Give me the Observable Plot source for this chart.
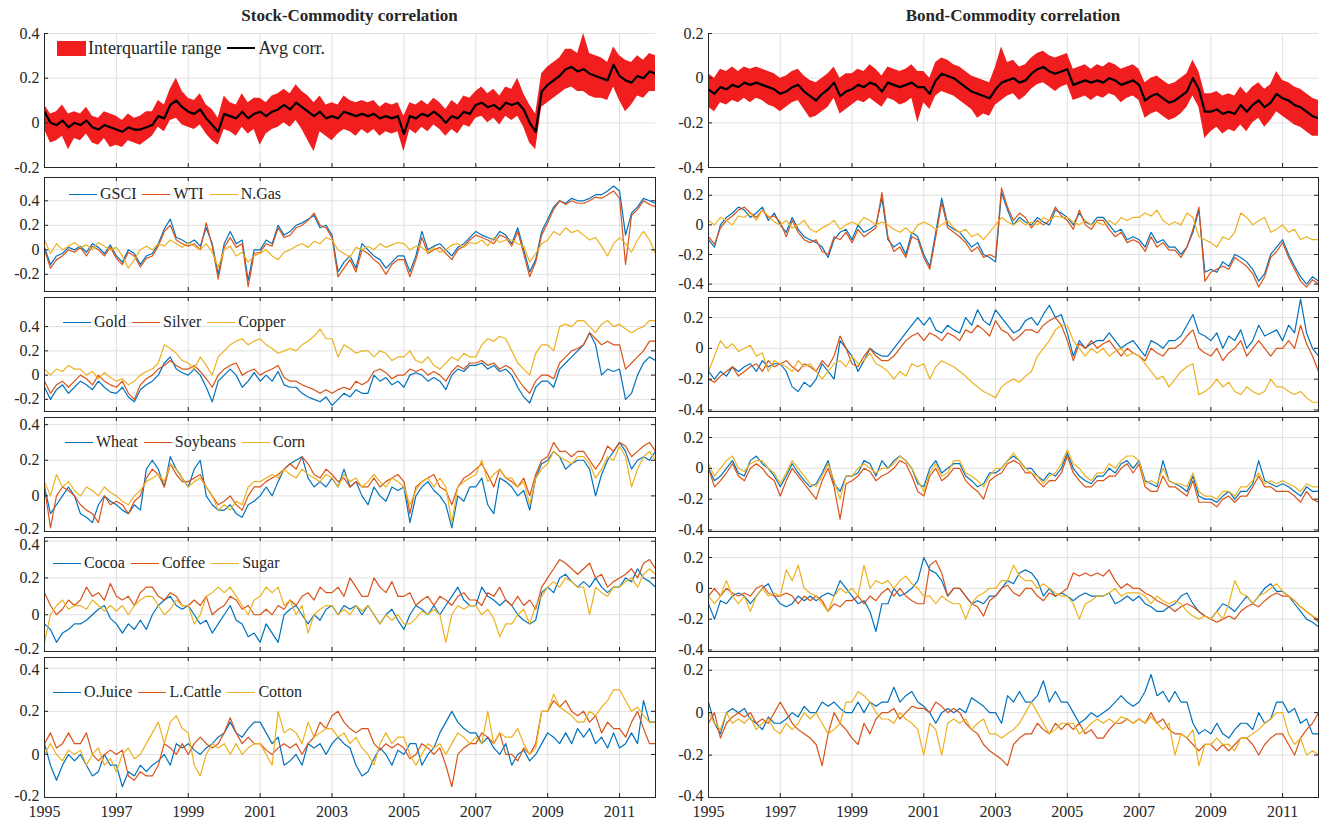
<!DOCTYPE html>
<html>
<head>
<meta charset="utf-8">
<script src="https://cdn.jsdelivr.net/npm/d3@7"></script>
<script src="https://cdn.jsdelivr.net/npm/@observablehq/plot@0.6"></script>
<style>
  body { margin: 0; background: #fff; }
  #fig { position: relative; width: 1325px; height: 827px; font-family: "Liberation Serif", "Times New Roman", serif; color: #262626; }
  #fig svg text { font-family: "Liberation Serif", "Times New Roman", serif !important; font-size: 16px !important; }
  .title { position: absolute; top: 6px; font-weight: bold; font-size: 17px; transform: translateX(-50%); white-space: nowrap; }
  .panel { position: absolute; }
  .legend { position: absolute; display: flex; align-items: center; font-size: 16px; line-height: 18px; white-space: nowrap; }
  .legend.big { font-size: 18px; line-height: 20px; }
  .legend .sw { display: inline-block; width: 28px; height: 0; margin-right: 3px; }
  .legend .patch { display: inline-block; width: 29px; height: 15px; margin-right: 2px; }
  .legend .lab { margin-right: 6px; }
</style>
</head>
<body>
<div id="fig"></div>
<script>
// Rolling correlations, sampled every two months from Jan 1995 to Jan 2012.
// All series values are correlations in hundredths.
const years = [1995, 1997, 1999, 2001, 2003, 2005, 2007, 2009, 2011];
const dates = d3.range(103).map(i => 1995 + i / 6);
const leftTicks = [-0.2, 0, 0.2, 0.4];
const rightTicks = [-0.4, -0.2, 0, 0.2];

// --- Stock-commodity: average correlation and interquartile range ---
const stockAvg = [5,0,-1,1,-2,0, -1,1,-2,-3,-1,-2, -3,-4,-2,-3,-3,-2, -1,3,2,8,10,7, 5,4,6,2,-1,-4, 4,3,2,5,2,4, 5,3,5,6,8,6, 9,7,5,3,5,2, 3,2,5,4,3,4, 3,4,2,3,2,3, -5,3,2,4,3,5, 3,0,3,2,5,4, 8,9,7,8,6,9, 8,9,6,0,-4,14, 17,19,21,24,25,23, 24,22,21,20,19,26, 21,19,18,21,20,23, 22];
const stockLo = [-3,-9,-8,-6,-12,-7, -8,-5,-9,-10,-7,-11, -10,-11,-8,-9,-10,-8, -6,-2,-4,1,2,-1, -2,-3,-1,-5,-8,-10, -3,-4,-6,-2,-5,-3, -10,-5,-3,-2,0,-2, 1,-3,-8,-13,-4,-6, -8,-5,-3,-4,-6,-3, -5,-3,-6,-4,-5,-4, -13,-3,-5,-2,-4,-1, -3,-6,-3,-5,-1,-2, 2,3,0,2,-1,3, 1,3,-2,-9,-12,7, 9,11,13,15,16,14, 14,12,11,11,10,16, 10,5,8,12,11,14, 14];
const stockHi = [8,4,5,8,4,5, 4,7,3,2,5,4, 3,1,4,2,3,5, 5,10,8,15,20,14, 11,10,13,8,6,2, 12,9,8,13,9,11, 11,9,12,13,15,13, 17,14,12,9,12,8, 9,8,12,10,9,10, 9,10,7,9,8,9, 3,9,8,10,8,11, 9,6,10,8,12,11, 14,16,13,15,12,16, 15,20,13,8,4,22, 25,27,29,33,33,31, 40,31,30,29,27,34, 30,28,27,30,28,31, 30];

// --- Bond-commodity: average correlation and interquartile range ---
const bondAvg = [-5,-7,-4,-5,-3,-4, -2,-3,-2,-3,-4,-5, -7,-6,-4,-3,-6,-8, -10,-7,-5,-2,-8,-6, -5,-3,-4,-2,-3,-6, -2,-3,-4,-3,-2,-4, -4,-7,-1,2,1,0, -2,-4,-6,-7,-8,-9, -5,-2,-1,0,-2,-1, 2,4,5,3,2,3, 4,-3,-2,-1,-2,-1, -2,0,-1,-3,-2,-1, -3,-10,-8,-7,-9,-11, -10,-8,-6,0,-5,-15, -15,-14,-16,-15,-16,-12, -15,-12,-10,-13,-11,-7, -9,-10,-12,-13,-15,-17, -18];
const bondLo = [-13,-15,-11,-12,-10,-11, -9,-11,-9,-10,-12,-13, -15,-13,-11,-10,-14,-18, -17,-15,-13,-9,-16,-14, -12,-10,-11,-9,-11,-13, -9,-10,-12,-11,-9,-20, -11,-14,-8,-6,-7,-8, -10,-12,-14,-18,-16,-17, -12,-10,-8,-7,-10,-8, -5,-3,-2,-4,-6,-4, -3,-10,-9,-8,-10,-8, -9,-7,-8,-11,-9,-8, -10,-18,-16,-15,-17,-19, -18,-16,-13,-8,-13,-27, -24,-22,-25,-23,-24,-21, -24,-20,-18,-22,-19,-15, -17,-19,-21,-22,-24,-26, -26];
const bondHi = [2,0,4,3,5,3, 5,4,5,4,3,2, 0,1,3,4,1,-1, -2,0,2,5,0,2, 2,4,3,6,4,1, 5,4,3,4,6,3, 3,0,7,9,8,6, 5,3,1,0,-1,-2, 5,14,7,8,5,6, 9,11,12,10,9,10, 11,4,5,6,4,6, 5,7,6,4,5,6, 4,-2,0,1,-1,-3, -2,0,2,8,3,-7, -7,-6,-8,-7,-8,-4, -7,-4,-2,-5,-3,3, -1,-2,-4,-5,-7,-9, -10];

// --- Energy ---
const gsciStock = [2,-12,-5,-3,2,0, 3,-2,5,2,-3,4, -5,-10,0,-3,-12,-5, -3,5,17,25,10,8, 5,8,3,18,5,-20, 5,15,5,8,-25,0, 0,8,5,20,12,15, 20,22,25,28,18,20, 12,-18,-10,-5,-15,5, 0,-5,-8,-15,-10,-5, -5,-18,-5,15,0,3, 5,0,-5,2,5,10, 15,12,10,8,15,12, 5,18,0,-18,-8,15, 25,35,40,38,42,40, 40,42,45,45,48,52, 48,12,30,35,42,40, 38];
const wtiStock = [0,-15,-8,-5,0,-2, 2,-5,3,0,-5,2, -7,-12,-2,-5,-14,-7, -5,3,15,20,8,5, 3,5,0,22,3,-24, 2,10,2,5,-30,-3, -2,5,3,18,10,12, 18,20,24,30,20,18, 10,-22,-15,-8,-18,0, -3,-8,-12,-20,-12,-8, -8,-22,-8,10,-3,0, 2,-3,-8,0,3,8, 12,10,8,5,12,10, 3,15,-3,-22,-10,12, 22,33,40,37,40,38, 38,40,43,42,45,48, 42,-12,28,33,40,37, 35];
const ngasStock = [8,-3,5,0,3,6, 2,4,0,6,3,0, 2,-5,-15,-8,0,3, 0,5,3,8,5,2, 6,3,0,5,-2,-14, 0,3,-5,-2,-10,-5, -3,0,-5,-8,-2,0, 3,5,2,7,5,10, 8,0,-3,-6,2,0, 3,0,5,2,4,6, 5,0,3,2,-2,2, -2,0,4,5,2,6, 5,8,3,10,6,8, 8,5,3,-10,-3,5, 8,15,12,18,14,16, 12,8,10,3,-5,5, 10,5,-2,8,15,8, -3];
const gsciBond = [-10,-15,0,5,8,12, 10,5,8,12,3,8, 0,-5,5,-3,-8,-10, -12,-15,-22,-10,-5,-3, -10,0,-5,-3,0,18, -10,-15,-12,-20,-5,-8, -20,-28,-5,18,0,-3, -5,-10,-15,-12,-20,-22, -25,22,10,0,5,2, 0,5,2,0,10,8, 5,0,8,2,0,5, 5,0,-5,-3,-10,-8, -10,-15,-5,-12,-10,-15, -15,-20,-15,-5,10,-32, -30,-32,-25,-28,-20,-22, -25,-30,-38,-33,-20,-15, -10,-20,-28,-35,-40,-35, -38];
const wtiBond = [-8,-13,-2,3,6,10, 12,8,5,10,5,6, 2,-8,3,-5,-10,-12, -10,-18,-20,-8,-10,-5, -12,-3,-8,-5,-2,22, -8,-18,-15,-22,-8,-10, -22,-30,-8,15,-2,-5, -8,-12,-18,-15,-22,-20, -22,25,12,3,8,5, -2,3,0,3,12,6, 3,-3,10,0,-3,3, 3,-3,-8,-5,-12,-10, -12,-18,-8,-15,-12,-17, -17,-22,-15,-3,12,-38, -32,-30,-28,-30,-22,-25, -28,-33,-42,-35,-22,-18, -12,-22,-30,-38,-42,-37, -40];
const ngasBond = [3,0,5,3,0,6, 5,8,3,10,6,2, 0,3,-2,0,3,-3, -5,-2,0,3,-3,0, 2,0,5,3,0,2, 0,-3,-5,-2,-6,0, 2,0,-3,0,3,-2, -5,-3,-8,-6,-10,-5, 0,5,2,0,3,0, 2,0,5,3,6,5, 5,2,0,3,0,2, 0,3,0,5,3,5, 5,8,6,10,3,0, 2,0,8,5,-8,-10, -12,-15,-8,-10,-5,8, 5,0,3,5,-5,-3, 0,-5,-3,-10,-8,-10, -10];

// --- Metals ---
const goldStock = [-10,-20,-12,-8,-15,-10, -5,-8,-12,-5,-10,-14, -15,-10,-18,-22,-12,-8, -5,0,10,15,5,2, 0,5,0,-10,-22,-5, 0,5,0,-10,-5,2, -5,0,-5,3,-8,-10, -10,-15,-18,-20,-22,-18, -25,-20,-15,-18,-12,-15, -15,0,-5,-2,-8,-5, -10,0,2,0,-5,-2, -5,-12,0,5,3,8, 8,10,5,8,3,5, 0,-10,-18,-23,-10,-5, -5,-10,5,10,15,20, 25,35,25,0,5,3, 5,-20,-15,0,10,15, 12];
const silverStock = [-5,-15,-8,-5,-10,-5, 0,-3,-8,0,-5,-8, -10,-5,-15,-20,-8,-3, 0,5,8,12,8,5, 5,8,3,-3,-10,0, 5,8,10,0,3,5, 0,3,5,8,-2,-5, -5,-8,-10,-12,-15,-12, -15,-12,-10,-12,-5,-8, -5,3,5,2,-3,0, 0,5,3,5,0,3, 0,-5,3,8,5,10, 10,12,8,10,5,8, 5,-3,-10,-15,-5,0, 0,-3,10,15,20,22, 25,35,30,25,28,25, 25,5,10,15,20,28, 28];
const copperStock = [5,0,5,3,8,5, 5,0,3,-3,2,-2, -5,-3,-8,-5,0,3, 5,10,25,22,18,12, 10,5,15,8,0,15, 20,25,28,30,25,28, 30,25,22,18,20,22, 20,25,28,32,38,30, 30,15,25,22,18,20, 20,15,20,18,12,15, 15,20,12,10,15,8, 5,10,15,12,18,15, 15,25,30,28,32,30, 20,10,5,0,18,25, 25,20,40,42,40,45, 45,40,35,42,45,40, 42,38,35,38,40,45, 45];
const goldBond = [-15,-20,-15,-18,-12,-15, -12,-10,-15,-8,-12,-10, -10,-15,-25,-28,-22,-25, -20,-10,-15,-20,5,0, -5,-15,-8,0,-3,-5, -5,0,5,10,15,20, 15,20,12,10,15,12, 10,20,15,25,18,15, 25,20,15,10,12,18, 20,15,22,28,20,22, 10,-5,5,0,3,5, 5,10,5,0,3,5, 0,-5,5,3,0,5, 5,8,15,22,10,8, 5,10,0,8,5,12, 0,5,15,8,10,12, 5,15,10,32,10,0, -5];
const silverBond = [-20,-22,-18,-15,-12,-18, -15,-12,-10,-15,-8,-12, -10,-8,-12,-15,-10,-12, -15,-8,-12,-5,8,0, -10,-12,-5,0,-5,-8, -8,-5,0,5,8,10, 5,10,8,5,10,8, 5,12,10,15,12,8, 18,12,10,5,8,12, 12,10,15,18,20,15, 5,-8,3,0,5,0, 3,5,0,-5,0,-3, -5,-8,0,-3,-5,0, 0,3,8,12,0,-3, -5,0,-8,-3,0,5, -5,0,5,0,-5,0, 0,5,0,15,3,-5, -15];
const copperBond = [-15,-5,5,0,3,-2, 0,2,-5,-3,-15,-8, -10,-12,-15,-8,-12,-10, -15,-20,-15,-10,-8,-12, -5,-10,-8,-3,-10,-12, -15,-20,-15,-18,-10,-12, -10,-20,-12,-8,-10,-12, -15,-18,-22,-25,-28,-30, -32,-25,-22,-20,-22,-18, -15,-5,0,5,12,15, 15,5,0,-5,0,-3, 0,-5,-2,0,-5,-3, -5,-10,-15,-20,-18,-25, -20,-15,-12,-10,-30,-28, -25,-20,-25,-22,-28,-30, -25,-28,-30,-28,-20,-25, -25,-28,-30,-28,-32,-35, -35];

// --- Grains ---
const wheatStock = [5,-10,-5,0,5,0, -10,-12,-15,-5,0,-3, -5,-8,-10,-5,-8,15, 20,15,5,22,15,10, 5,15,20,0,-5,-8, -8,-5,-10,-12,-5,-3, 0,5,0,8,15,18, 20,22,10,5,8,5, 10,5,15,5,8,0, -5,5,0,-3,5,3, 5,-15,0,5,8,3, 0,-5,-18,0,-3,5, 5,10,-5,-10,10,8, 5,0,3,-8,10,18, 20,25,22,15,18,20, 20,15,0,12,20,25, 30,25,15,20,22,20, 25];
const soyStock = [5,-18,0,5,3,0, -5,-8,-10,-15,0,-5, -3,-5,-10,-3,0,10, 15,12,5,18,12,8, 8,10,12,5,0,-5, -3,0,-5,-8,0,5, 5,8,10,12,15,18, 15,22,18,12,10,15, 12,8,10,5,8,5, 5,10,5,8,10,12, 8,-10,5,8,10,12, 5,3,-5,5,10,12, 15,18,12,5,15,10, 8,5,10,0,12,20, 22,30,25,25,22,25, 25,20,15,20,28,25, 30,28,22,25,28,30, 25];
const cornStock = [8,0,12,5,8,3, 0,5,3,0,5,2, 0,-3,-5,0,3,8, 10,12,8,18,15,10, 5,8,10,5,0,-8, -5,-8,-3,-5,5,8, 8,10,12,10,15,12, 10,15,12,10,8,12, 10,5,12,8,10,5, 8,12,8,5,10,8, 5,-5,3,8,10,5, 10,5,-15,5,8,10, 12,20,8,12,15,10, 10,5,8,-5,10,15, 18,25,22,20,18,22, 22,18,10,15,22,20, 28,22,5,15,22,25, 20];
const wheatBond = [0,-8,-5,0,5,-3, -5,5,8,3,0,-5, -12,-5,3,-3,-8,-12, -10,-3,5,-10,-15,-5, -5,-3,5,3,-5,5, 0,5,8,5,0,-10, -12,0,5,-3,0,3, 3,-5,-8,-12,-10,-3, -3,0,5,8,5,0, 0,-5,-8,-3,-5,0, 10,0,-5,-8,-10,-5, -5,0,-3,3,5,0, 5,-8,-10,-12,5,-8, -10,-12,-15,-5,-18,-20, -20,-22,-18,-15,-20,-15, -15,-10,5,-8,-10,-12, -10,-12,-15,-18,-12,-15, -15];
const soyBond = [0,-12,-8,-3,3,-5, -8,0,3,0,-5,-8, -18,-8,0,-5,-10,-15, -20,-8,0,-12,-33,-10, -8,-5,0,-2,-8,-5, -3,0,5,3,-5,-15, -18,-5,0,-8,-5,0, 0,-8,-12,-15,-20,-8, -5,-3,3,5,3,-3, -3,-8,-12,-8,-8,-3, 8,-3,-8,-12,-12,-8, -8,-5,-5,0,3,-3, 3,-12,-15,-15,-5,-12, -12,-15,-18,-8,-22,-22, -22,-25,-20,-18,-22,-18, -18,-12,-5,-12,-12,-15, -15,-15,-18,-22,-15,-20, -22];
const cornBond = [3,-5,0,5,8,0, -2,3,5,5,0,-3, -10,-3,5,0,-5,-10, -12,-5,3,-8,-20,-5, -5,0,3,0,-3,0, 0,3,8,5,0,-8, -15,-3,3,-5,-3,5, 5,-3,-5,-8,-12,-5, 0,0,5,10,5,0, -3,-5,-10,-5,-3,3, 12,3,0,-5,-8,-3, -3,3,0,5,8,8, 5,-10,-8,-10,0,-8, -10,-10,-12,-3,-15,-18, -18,-20,-15,-15,-18,-12, -12,-8,-3,-10,-8,-10, -8,-10,-12,-15,-10,-12, -12];

// --- Softs ---
const cocoaStock = [-5,-8,-15,-10,-8,-5, -5,-3,0,3,5,-2, -5,-10,-5,-8,-3,-8, 0,5,8,10,5,3, 5,0,-5,-3,-10,-5, 0,5,-3,-5,-12,-10, -15,-5,-10,-15,0,3, 5,0,-5,0,-3,3, 5,0,5,3,5,0, 5,0,-5,0,3,-3, -8,0,5,3,0,5, 0,5,10,15,8,5, 5,15,10,8,5,8, 5,0,-3,-5,-3,12, 15,12,20,22,18,15, 18,15,20,15,12,15, 15,20,18,25,20,18, 15];
const coffeeStock = [12,5,0,3,8,5, 8,15,10,12,8,17, 10,8,10,5,12,15, 15,10,8,12,10,5, 5,8,5,10,0,3, 5,10,8,3,5,0, 0,3,0,5,3,8, 5,10,12,8,15,12, 12,15,10,20,15,10, 10,20,15,12,18,10, 10,12,5,8,10,5, 10,8,5,10,12,8, 8,5,12,10,15,8, 5,10,5,8,3,15, 20,25,30,28,25,22, 25,28,20,22,15,18, 20,22,25,20,28,30, 25];
const sugarStock = [-15,0,5,8,3,5, 5,3,8,5,2,5, 2,5,0,5,8,10, 10,5,0,3,8,5, 5,-5,0,10,12,15, 12,15,10,5,0,8, 10,15,12,15,5,8, 0,5,-10,0,3,5, 5,0,3,0,5,2, 5,0,-5,0,-3,0, -5,-5,-2,2,0,3, 0,-15,0,5,3,5, 5,0,3,-2,-12,-5, -5,0,3,-5,5,10, 15,18,15,20,18,15, 15,0,15,12,10,15, 15,18,20,15,22,25, 22];
const cocoaBond = [-10,-20,-8,-10,-5,-3, -5,-10,-5,0,3,-5, -10,-12,-10,-5,-8,-5, -8,-5,-3,-5,5,0, -5,-10,-8,-15,-28,-10, -10,0,-5,-3,0,5, 20,12,10,5,-5,0, 0,-5,-10,-8,-10,-5, -5,0,5,3,10,12, 10,5,-5,0,-5,-3, -5,-8,-5,-3,-5,-5, -5,-3,-10,-8,-5,-8, -5,-10,-12,-15,-15,-12, -10,-5,-3,-10,-15,-18, -20,-15,-10,-12,-15,-10, -5,-10,-5,0,3,-2, -2,-5,-10,-15,-20,-22, -25];
const coffeeBond = [-5,0,-5,0,-3,-5, -3,-5,0,2,-3,-5, -5,-3,-5,-10,-5,-8, -5,-8,-15,-10,-12,-8, -8,-5,-10,-5,-8,-3, 0,-5,0,-5,-8,-10, -10,15,18,10,-5,0, 0,-5,-10,-12,-18,-8, -5,0,2,-3,-5,0, 0,-5,-8,-3,-5,-3, 0,10,8,10,8,10, 8,12,5,0,3,0, 0,-3,-5,-8,-10,-12, -15,-12,-10,-12,-15,-18, -20,-22,-20,-18,-20,-15, -12,-10,-12,-8,-5,-3, -5,-5,-8,-12,-15,-18, -22];
const sugarBond = [-5,-10,-5,5,-5,-10, -5,-15,-5,0,-5,-3, -5,12,5,15,0,-3, -5,-10,-15,-5,0,-3, 0,-5,15,0,5,3, 5,0,5,8,3,0, -5,-5,-10,-5,-8,-10, -10,-20,-10,-5,-3,0, 0,5,5,15,8,5, 5,0,3,0,-3,-5, -5,-10,-20,-10,-8,-5, -5,-3,0,-5,-3,-3, -3,-5,-10,-5,-8,-10, -8,-10,-15,-18,-20,-18, -20,-15,-20,-10,5,-3, -5,-10,-5,-3,0,3, -2,-5,-8,-12,-15,-18, -20];

// --- Others ---
const ojStock = [5,-5,-12,-5,0,-3, 0,-5,-10,-8,0,-5, -5,-15,-8,-10,-5,-8, -5,-3,0,-5,5,3, 5,2,0,3,5,8, 10,15,10,8,12,15, 15,10,5,8,-5,-3, 0,-5,5,3,5,0, 5,8,5,3,-5,-10, -8,-2,3,0,-5,2, 0,5,5,-5,0,3, 10,15,20,15,12,10, 10,5,8,3,0,5, -5,0,2,-3,0,5, 10,8,5,10,5,12, 8,12,5,8,3,10, 3,5,10,5,25,15, 15];
const cattleStock = [5,10,3,5,10,5, 5,10,0,-3,0,2, 0,2,-10,-12,-8,-10, -10,-5,5,3,0,5, 0,5,8,5,3,5, 10,17,10,5,8,5, 5,2,0,3,5,3, 5,0,5,8,15,12, 18,20,15,12,10,12, 12,5,2,5,3,5, 3,-2,0,5,3,0, 3,-5,-15,0,3,5, 5,10,8,5,10,0, 0,-3,3,0,5,20, 20,25,22,25,20,18, 20,15,18,10,15,12, 12,8,15,20,12,5, 5];
const cottonStock = [0,5,0,-3,2,0, 2,-5,0,3,-5,-2, -8,0,3,-2,0,5, 10,15,5,15,18,12, 10,-5,-10,0,5,3, 5,0,5,0,3,5, 5,0,-5,20,10,12, 10,5,15,8,10,12, 12,8,10,5,8,3, 0,-5,5,10,5,8, 8,0,-5,0,5,3, 5,0,5,10,8,5, 8,5,20,5,10,8, 8,12,5,0,3,20, 20,28,22,20,18,15, 15,20,18,22,25,30, 30,25,20,22,18,15, 15];
const ojBond = [5,-5,-10,0,2,0, 2,-3,-5,-8,-2,-5, -5,-3,0,-2,3,0, 0,5,3,5,2,0, 0,5,0,5,3,5, 5,12,5,8,10,5, 3,0,-5,0,2,0, 2,0,7,5,3,0, 0,-5,8,5,10,5, 5,8,15,5,10,5, 5,0,-5,-3,0,-2, 0,2,5,8,5,3, 5,10,18,8,10,5, 10,5,5,-5,-10,-8, -10,-5,-10,-12,-8,-5, -5,-8,0,-5,-3,5, 5,0,2,-5,-3,-10, -10];
const cattleBond = [-5,0,-12,-5,-2,0, -2,0,-5,-3,-5,0, 5,0,-5,-8,-10,-12, -15,-25,-10,0,-5,-8, -12,-15,-5,-10,-3,0, 0,2,-3,0,3,2, 2,0,5,3,0,2, 0,-5,-8,-10,-15,-18, -20,-22,-25,-15,-12,-10, -10,-5,-8,-10,-5,-8, -5,-8,-5,-10,-8,-12, -12,-8,-5,-5,-3,-5, -3,-5,0,-5,-3,-8, -10,-10,-12,-15,-18,-15, -15,-18,-15,-18,-15,-12, -12,-15,-20,-15,-12,-10, -10,-15,-20,-12,-8,-5, 0];
const cottonBond = [0,-5,-8,0,-5,-3, -5,-2,-8,-5,-3,-8, -10,-5,-8,-5,0,-3, 0,-5,-10,-8,-5,5, 5,10,8,5,0,-3, -3,-5,0,-3,-5,-8, -20,-5,-8,-20,-5,-3, -5,-3,-8,-5,-3,-10, -10,-12,-10,-8,-5,0, 5,0,-5,-10,-8,-5, -5,-5,-10,-8,-5,-3, -5,-3,-5,-2,-3,-5, -3,-5,-2,-5,-8,-5, -20,-10,-12,-8,-25,-15, -15,-12,-15,-15,-18,-12, -12,-10,-8,-5,-3,0, 0,-10,-15,-12,-20,-18, -20];

// --- Styling ---
const BLUE = "#0072BD", ORANGE = "#D95319", YELLOW = "#EDB120";
const BAND = "#F01E1E", GRID = "#e1e1e1", AXIS = "#262626";
const FONT = '"Liberation Serif", "Times New Roman", serif';
const cols = [
  {left: 0, width: 660, mL: 44, mR: 5},
  {left: 660, width: 665, mL: 48, mR: 7}
];
const rows = [[33, 167], [177, 291], [297, 411], [417, 531], [537, 651], [657, 797]];
const pad = 10;
const fmt = d => String(Math.round(d * 10) / 10);

const trio = (a, b, c, names) => [
  {values: a, color: BLUE, name: names && names[0]},
  {values: b, color: ORANGE, name: names && names[1]},
  {values: c, color: YELLOW, name: names && names[2]}
];

const panels = [
  {col: 0, row: 0, domain: [-0.2, 0.4], band: [stockLo, stockHi], avg: stockAvg},
  {col: 1, row: 0, domain: [-0.4, 0.2], band: [bondLo, bondHi], avg: bondAvg},
  {col: 0, row: 1, domain: [-0.34, 0.59], series: trio(gsciStock, wtiStock, ngasStock, ["GSCI", "WTI", "N.Gas"]), legendAt: [69, 194]},
  {col: 1, row: 1, domain: [-0.45, 0.32], series: trio(gsciBond, wtiBond, ngasBond)},
  {col: 0, row: 2, domain: [-0.3, 0.64], series: trio(goldStock, silverStock, copperStock, ["Gold", "Silver", "Copper"]), legendAt: [63, 322]},
  {col: 1, row: 2, domain: [-0.41, 0.33], series: trio(goldBond, silverBond, copperBond)},
  {col: 0, row: 3, domain: [-0.2, 0.44], series: trio(wheatStock, soyStock, cornStock, ["Wheat", "Soybeans", "Corn"]), legendAt: [65, 442], shift: {"-0.2": -3}},
  {col: 1, row: 3, domain: [-0.41, 0.33], series: trio(wheatBond, soyBond, cornBond)},
  {col: 0, row: 4, domain: [-0.2, 0.42], series: trio(cocoaStock, coffeeStock, sugarStock, ["Cocoa", "Coffee", "Sugar"]), legendAt: [53, 563], shift: {"0.4": 4, "-0.2": -3}},
  {col: 1, row: 4, domain: [-0.41, 0.33], series: trio(cocoaBond, coffeeBond, sugarBond)},
  {col: 0, row: 5, domain: [-0.2, 0.45], series: trio(ojStock, cattleStock, cottonStock, ["O.Juice", "L.Cattle", "Cotton"]), legendAt: [53, 692], shift: {"0.4": 2, "-0.2": -2}},
  {col: 1, row: 5, domain: [-0.4, 0.26], series: trio(ojBond, cattleBond, cottonBond), shift: {"-0.4": -2}}
];

const fig = document.getElementById("fig");

function drawPanel(p) {
  const c = cols[p.col];
  const [top, bottom] = rows[p.row];
  const last = p.row === rows.length - 1;
  const boxed = p.row > 0;
  const mB = last ? 34 : pad;
  const plotH = bottom - top;
  const plotW = c.width - c.mL - c.mR;
  const ticks = p.col === 0 ? leftTicks : rightTicks;

  const marks = [
    Plot.gridX(years, {stroke: GRID, strokeOpacity: 1}),
    Plot.gridY(ticks, {stroke: GRID, strokeOpacity: 1})
  ];
  if (p.band) {
    marks.push(Plot.areaY(dates, {
      x: d => d, y1: (d, i) => p.band[0][i] / 100, y2: (d, i) => p.band[1][i] / 100,
      fill: BAND, clip: true
    }));
  }
  if (p.series) {
    for (const s of p.series) {
      marks.push(Plot.lineY(s.values, {x: (d, i) => dates[i], y: d => d / 100, stroke: s.color, strokeWidth: 1.2, clip: true}));
    }
  }
  if (p.avg) {
    marks.push(Plot.lineY(p.avg, {x: (d, i) => dates[i], y: d => d / 100, stroke: "#000", strokeWidth: 2.2, clip: true}));
  }
  // inward tick marks on the bottom and left edges (and top/right when boxed)
  marks.push(Plot.ruleX(years, {x: d => d, insetTop: plotH - 4, stroke: AXIS}));
  marks.push(Plot.ruleY(ticks, {y: d => d, insetRight: plotW - 4, stroke: AXIS}));
  if (boxed) {
    marks.push(Plot.ruleX(years, {x: d => d, insetBottom: plotH - 4, stroke: AXIS}));
    marks.push(Plot.ruleY(ticks, {y: d => d, insetLeft: plotW - 4, stroke: AXIS}));
    marks.push(Plot.frame({stroke: AXIS, strokeWidth: 1}));
  } else {
    marks.push(Plot.ruleX([1995], {stroke: AXIS}));
    marks.push(Plot.ruleY([p.domain[0]], {stroke: AXIS}));
  }
  // y tick labels
  for (const t of ticks) {
    const dy = (p.shift && p.shift[fmt(t)]) || 0;
    marks.push(Plot.text([t], {
      y: d => d, frameAnchor: "left", dx: -5, dy, textAnchor: "end", lineAnchor: "middle",
      text: fmt, fill: AXIS, fontFamily: FONT, fontSize: 16
    }));
  }
  // year labels on the bottom row
  if (last) {
    marks.push(Plot.text(years, {
      x: d => d, frameAnchor: "bottom", dy: 8, lineAnchor: "top",
      text: d => String(d), fill: AXIS, fontFamily: FONT, fontSize: 16
    }));
  }

  const svg = Plot.plot({
    width: c.width,
    height: plotH + pad + mB,
    marginLeft: c.mL,
    marginRight: c.mR,
    marginTop: pad,
    marginBottom: mB,
    x: {domain: [1995, 2012], axis: null},
    y: {domain: p.domain, axis: null},
    style: {background: "transparent", overflow: "visible"},
    marks
  });
  const div = document.createElement("div");
  div.className = "panel";
  div.style.left = c.left + "px";
  div.style.top = (top - pad) + "px";
  div.appendChild(svg);
  fig.appendChild(div);

  if (p.legendAt) addLegend(p.legendAt, p.series.map(s => ({type: "line", color: s.color, label: s.name})));
}

function addLegend([x, cy], items, big) {
  const lg = document.createElement("div");
  lg.className = big ? "legend big" : "legend";
  lg.style.left = x + "px";
  lg.style.top = (cy - (big ? 10 : 9)) + "px";
  for (const it of items) {
    const sw = document.createElement("span");
    if (it.type === "patch") {
      sw.className = "patch";
      sw.style.background = it.color;
    } else {
      sw.className = "sw";
      sw.style.borderTop = `${it.width || 1.3}px solid ${it.color}`;
    }
    const lab = document.createElement("span");
    lab.className = "lab";
    lab.textContent = it.label;
    lg.appendChild(sw);
    lg.appendChild(lab);
  }
  fig.appendChild(lg);
}

function addTitle(text, cx) {
  const t = document.createElement("div");
  t.className = "title";
  t.style.left = cx + "px";
  t.textContent = text;
  fig.appendChild(t);
}

panels.forEach(drawPanel);
addLegend([57, 48], [
  {type: "patch", color: BAND, label: "Interquartile range"},
  {type: "line", color: "#000", width: 2.5, label: "Avg corr."}
], true);
addTitle("Stock-Commodity correlation", (cols[0].left + cols[0].mL + cols[0].left + cols[0].width - cols[0].mR) / 2);
addTitle("Bond-Commodity correlation", (cols[1].left + cols[1].mL + cols[1].left + cols[1].width - cols[1].mR) / 2);
</script>
</body>
</html>
